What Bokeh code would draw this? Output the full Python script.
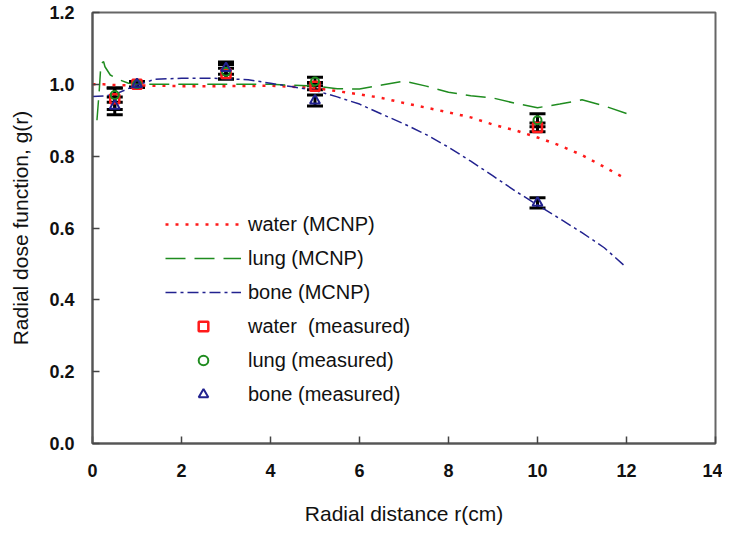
from bokeh.plotting import figure
from bokeh.models import (ColumnDataSource, Whisker, TeeHead, Legend, LegendItem,
                          FixedTicker, Range1d, PrintfTickFormatter)
from bokeh.embed import file_html
from bokeh.resources import INLINE

# MCNP curves
water_r = [0, 0.25, 0.5, 1, 2, 3, 4, 5, 5.5, 6, 6.5, 7, 7.5, 8, 8.5, 9, 9.5, 10, 10.5, 11, 11.5, 12]
water_g = [1.0, 1.0, 0.998, 0.997, 0.995, 0.995, 0.996, 0.99, 0.981, 0.972, 0.962, 0.948, 0.935,
           0.922, 0.908, 0.888, 0.872, 0.852, 0.83, 0.803, 0.77, 0.736]

lung_r = [0.1, 0.15, 0.19, 0.25, 0.28, 0.4, 0.62, 0.81, 1.0, 1.5, 2, 3, 4, 5, 5.5, 6, 6.5, 7, 7.5,
          8, 8.5, 9, 9.5, 10, 10.5, 11, 11.5, 12]
lung_g = [0.90, 0.98, 1.058, 1.063, 1.049, 1.026, 1.012, 1.003, 1.0, 1.0, 1.0, 1.0, 1.0, 0.995,
          0.988, 0.987, 0.998, 1.009, 0.995, 0.978, 0.968, 0.962, 0.947, 0.935, 0.945, 0.957,
          0.94, 0.919]

bone_r = [0.0, 0.3, 0.5, 0.8, 1.0, 1.4, 2, 2.7, 3.5, 4, 4.5, 5, 5.5, 6, 6.5, 7, 7.5, 8, 8.5, 9,
          9.5, 10, 10.5, 11, 11.5, 12]
bone_g = [0.966, 0.968, 0.972, 0.988, 0.998, 1.014, 1.017, 1.017, 1.013, 1.003, 0.993, 0.983,
          0.965, 0.945, 0.917, 0.89, 0.86, 0.825, 0.786, 0.745, 0.703, 0.664, 0.626, 0.587,
          0.545, 0.49]

# measured points
meas_r = [0.5, 1, 3, 5, 10]
water_meas = [0.96, 1.0, 1.03, 0.995, 0.88]
water_err = [0.03, 0.008, 0.015, 0.01, 0.012]
lung_meas = [0.97, 1.0, 1.035, 1.008, 0.90]
lung_err = [0.02, 0.008, 0.02, 0.012, 0.018]
bone_meas = [0.94, 1.0, 1.045, 0.955, 0.67]
bone_err = [0.025, 0.008, 0.017, 0.015, 0.014]

x_ticks = [0, 2, 4, 6, 8, 10, 12, 14]
y_ticks = [0.0, 0.2, 0.4, 0.6, 0.8, 1.0, 1.2]

RED = "#ff1a1a"
GREEN = "#1f8c1f"
BLUE = "#22228f"
FONT = "Liberation Sans"

p = figure(width=722, height=527, output_backend="svg", toolbar_location=None,
           x_range=Range1d(0, 14), y_range=Range1d(0, 1.2),
           min_border_left=92, min_border_right=7, min_border_top=12, min_border_bottom=82)
p.xgrid.visible = False
p.ygrid.visible = False
p.outline_line_color = "#666666"
p.outline_line_width = 2

for ax in (p.xaxis[0], p.yaxis[0]):
    ax.axis_line_color = "#555555"
    ax.axis_line_width = 2
    ax.major_tick_in = 7
    ax.major_tick_out = 0
    ax.major_tick_line_color = "#444444"
    ax.major_tick_line_width = 1.5
    ax.minor_tick_line_color = None
    ax.major_label_text_font = FONT
    ax.major_label_text_font_size = "18px"
    ax.major_label_text_font_style = "bold"
    ax.major_label_text_color = "#111111"
    ax.axis_label_text_font = FONT
    ax.axis_label_text_font_size = "21px"
    ax.axis_label_text_font_style = "normal"
    ax.axis_label_text_color = "#111111"

p.xaxis.ticker = FixedTicker(ticks=x_ticks)
p.yaxis.ticker = FixedTicker(ticks=y_ticks)
p.yaxis.formatter = PrintfTickFormatter(format="%.1f")
p.xaxis.axis_label = "Radial distance r(cm)"
p.yaxis.axis_label = "Radial dose function, g(r)"
p.xaxis.major_label_standoff = 20
p.yaxis.major_label_standoff = 18
p.xaxis.axis_label_standoff = 22
p.yaxis.axis_label_standoff = 14

lw = p.line(water_r, water_g, line_color=RED, line_width=2.5, line_dash="3 7")
ll = p.line(lung_r, lung_g, line_color=GREEN, line_width=1.5, line_dash="20 9")
lb = p.line(bone_r, bone_g, line_color=BLUE, line_width=1.5, line_dash="11 4 3 4")

for vals, errs in ((water_meas, water_err), (lung_meas, lung_err), (bone_meas, bone_err)):
    src = ColumnDataSource(dict(x=meas_r,
                                upper=[v + e for v, e in zip(vals, errs)],
                                lower=[v - e for v, e in zip(vals, errs)]))
    w = Whisker(source=src, base="x", upper="upper", lower="lower", dimension="height",
                line_color="black", line_width=3,
                upper_head=TeeHead(size=16, line_color="black", line_width=3),
                lower_head=TeeHead(size=16, line_color="black", line_width=3))
    p.add_layout(w)

mw = p.scatter(meas_r, water_meas, marker="square", size=9, line_color=RED, line_width=2.5,
               fill_color=None)
ml = p.scatter(meas_r, lung_meas, marker="circle", size=8, line_color=GREEN, line_width=2,
               fill_color=None)
mb = p.scatter(meas_r, bone_meas, marker="triangle", size=10, line_color=BLUE, line_width=2,
               fill_color=None)

legend = Legend(items=[
    LegendItem(label="water (MCNP)", renderers=[lw]),
    LegendItem(label="lung (MCNP)", renderers=[ll]),
    LegendItem(label="bone (MCNP)", renderers=[lb]),
    LegendItem(label="water  (measured)", renderers=[mw]),
    LegendItem(label="lung (measured)", renderers=[ml]),
    LegendItem(label="bone (measured)", renderers=[mb]),
], location=(73, 37))
legend.border_line_color = None
legend.background_fill_alpha = 0
legend.padding = 0
legend.margin = 0
legend.spacing = 10
legend.glyph_width = 76
legend.glyph_height = 24
legend.label_height = 24
legend.label_standoff = 7
legend.label_text_font = FONT
legend.label_text_font_size = "20px"
legend.label_text_color = "#111111"
p.add_layout(legend)

open("out.html", "w").write(file_html(p, INLINE))
